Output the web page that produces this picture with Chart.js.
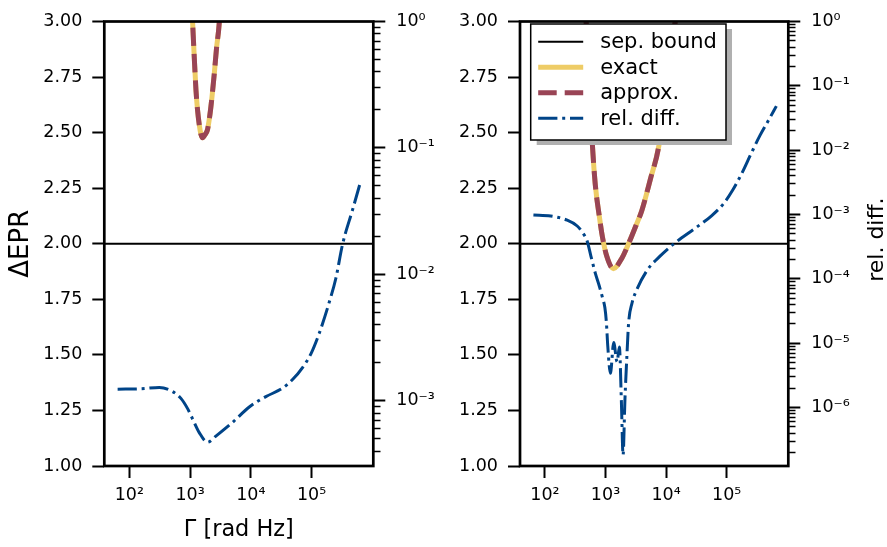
<!DOCTYPE html>
<html>
<head>
<meta charset="utf-8">
<script src="https://cdn.jsdelivr.net/npm/chart.js@4/dist/chart.umd.min.js"></script>
<style>
  html, body { margin: 0; padding: 0; background: #fff; }
  #wrap { position: relative; width: 887px; height: 547px; overflow: hidden; }
  canvas { position: absolute; top: 0; }
  #cA { left: 0; }
  #cB { left: 443px; }
</style>
</head>
<body>
<div id="wrap">
  <canvas id="cA" width="443" height="547"></canvas>
  <canvas id="cB" width="444" height="547"></canvas>
</div>
<script>
// ---- data -------------------------------------------------------------
// x range of both panels (Γ in rad Hz)
const gammaRange = [38.8, 1.04e6];
const gammaTicks = [1e2, 1e3, 1e4, 1e5];
const deltaTicks = [1.00, 1.25, 1.50, 1.75, 2.00, 2.25, 2.50, 2.75, 3.00];
const relTicksL = [1e-3, 1e-2, 1e-1, 1e0];
const relTicksR = [1e-6, 1e-5, 1e-4, 1e-3, 1e-2, 1e-1, 1e0];
const relRangeL = [3.05e-4, 1];
const relRangeR = [1.23e-7, 1];

// separability bound
const sepGamma = [38.8, 1.04e6];
const sepValue = [2, 2];

// left panel: ΔEPR (exact and approximation coincide)
const gammaDeltaL = [955, 1102, 1175, 1253, 1330, 1419, 1514, 1607, 1778, 1941, 2070, 2208, 2506, 2735, 3020, 3548];
const exactDeltaL = [3.45, 3.00, 2.838, 2.691, 2.602, 2.536, 2.492, 2.477, 2.492, 2.514, 2.558, 2.617, 2.764, 2.882, 2.99, 3.35];
const approxDeltaL = [3.45, 3.00, 2.838, 2.691, 2.602, 2.536, 2.492, 2.477, 2.492, 2.514, 2.558, 2.617, 2.764, 2.882, 2.99, 3.35];

// left panel: relative difference
const gammaRelL = [64.3, 158.5, 311.9, 516.4, 707.9, 912, 1102, 1419, 1945, 2667, 5012, 9441, 17740, 33340, 48750, 71120, 97720, 134000, 195400, 251200, 324300, 473200, 648600];
const relDiffL = [1.236e-3, 1.245e-3, 1.276e-3, 1.183e-3, 1.045e-3, 8.67e-4, 7.18e-4, 5.60e-4, 4.70e-4, 5.26e-4, 6.75e-4, 8.93e-4, 1.079e-3, 1.259e-3, 1.472e-3, 1.832e-3, 2.350e-3, 3.420e-3, 6.00e-3, 9.27e-3, 1.730e-2, 3.236e-2, 5.50e-2];

// right panel: ΔEPR
const gammaDeltaR = [417, 479, 537, 603, 676, 794, 891, 1047, 1349, 1862, 2399, 3162, 3981, 5495, 7586, 9772, 13490, 14125, 16596];
const exactDeltaR = [3.40, 3.00, 2.72, 2.46, 2.27, 2.12, 2.03, 1.945, 1.888, 1.935, 2.00, 2.08, 2.15, 2.29, 2.44, 2.67, 2.96, 3.00, 3.30];
const approxDeltaR = [3.40, 3.00, 2.72, 2.46, 2.27, 2.12, 2.03, 1.945, 1.888, 1.935, 2.00, 2.08, 2.15, 2.29, 2.44, 2.67, 2.96, 3.00, 3.30];

// right panel: relative difference
const gammaRelR = [64.6, 124.2, 233.3, 341.2, 416.9, 498.9, 575.4, 682.3, 794.3, 881.0, 977.2, 1035, 1089, 1205, 1365, 1552, 1694, 1828, 1950, 2089, 2270, 2410, 2742, 3112, 4842, 8017, 13270, 31620, 56230, 89130, 125900, 177800, 251200, 354800, 501200, 660700];
const relDiffR = [9.82e-4, 9.46e-4, 8.15e-4, 6.62e-4, 5.25e-4, 3.85e-4, 2.24e-4, 1.202e-4, 7.59e-5, 5.31e-5, 3.55e-5, 2.09e-5, 9.12e-6, 3.39e-6, 1.023e-5, 5.13e-6, 8.71e-6, 1.259e-6, 1.82e-7, 1.259e-6, 7.24e-6, 2.09e-5, 4.20e-5, 6.03e-5, 1.349e-4, 2.27e-4, 3.47e-4, 6.31e-4, 9.55e-4, 1.479e-3, 2.399e-3, 4.365e-3, 8.71e-3, 1.698e-2, 3.02e-2, 4.84e-2];

// ---- styling ----------------------------------------------------------
const FONT = "'DejaVu Sans', sans-serif";
const COLORS = { sep: '#000000', exact: '#EECC66', approx: '#994455', rel: '#004488' };
const STYLES = {
  sep:    { borderColor: COLORS.sep, borderWidth: 2, borderDash: [] },
  exact:  { borderColor: COLORS.exact, borderWidth: 5, borderDash: [] },
  approx: { borderColor: COLORS.approx, borderWidth: 5, borderDash: [18.5, 8] },
  rel:    { borderColor: COLORS.rel, borderWidth: 3, borderDash: [19.2, 4.8, 3, 4.8] }
};

const SUP = { '-': '\u207B', '0': '\u2070', '1': '\u00B9', '2': '\u00B2', '3': '\u00B3', '4': '\u2074', '5': '\u2075', '6': '\u2076', '7': '\u2077', '8': '\u2078', '9': '\u2079' };
const sup = s => String(s).replace(/[-0-9]/g, c => SUP[c]);
const isDecade = v => Math.abs(Math.log10(v) - Math.round(Math.log10(v))) < 1e-6;
const decadeLabel = v => '10' + sup(Math.round(Math.log10(v)));

// decades plus the 2..9 minor positions inside [lo, hi]
function logTickValues(majors, lo, hi) {
  const out = [];
  const e0 = Math.floor(Math.log10(lo)), e1 = Math.ceil(Math.log10(hi));
  for (let e = e0; e <= e1; e++) {
    for (let k = 1; k <= 9; k++) {
      const v = k * Math.pow(10, e);
      if (v >= lo * 0.9999 && v <= hi * 1.0001) {
        if (k === 1 && !majors.some(m => Math.abs(m - v) / v < 1e-6)) continue;
        out.push(v);
      }
    }
  }
  return out;
}

function series(label, xs, ys, axis, style, order) {
  return Object.assign({
    label,
    data: xs.map((x, i) => ({ x, y: ys[i] })),
    yAxisID: axis,
    pointRadius: 0,
    pointHoverRadius: 0,
    fill: false,
    clip: 0,
    order,
    borderCapStyle: 'butt',
    cubicInterpolationMode: 'monotone'
  }, style);
}

// ---- plugins ------------------------------------------------------------
const framePlugin = {
  id: 'frame',
  afterDatasetsDraw(chart) {
    const { ctx, chartArea: a } = chart;
    ctx.save();
    ctx.strokeStyle = '#000';
    ctx.lineWidth = 2.7;
    ctx.strokeRect(a.left, a.top, a.right - a.left, a.bottom - a.top);
    ctx.restore();
  }
};

const legendPlugin = {
  id: 'boxLegend',
  afterDraw(chart, args, opts) {
    if (!opts || !opts.show) return;
    const { ctx } = chart;
    const x0 = opts.x, y0 = opts.y, w = opts.w, h = opts.h;
    ctx.save();
    ctx.fillStyle = '#b0b0b0';
    ctx.fillRect(x0 + 6, y0 + 5, w, h);
    ctx.fillStyle = '#ffffff';
    ctx.fillRect(x0, y0, w, h);
    ctx.strokeStyle = '#000';
    ctx.lineWidth = 1.5;
    ctx.strokeRect(x0, y0, w, h);
    const entries = [
      ['sep. bound', STYLES.sep],
      ['exact', STYLES.exact],
      ['approx.', STYLES.approx],
      ['rel. diff.', STYLES.rel]
    ];
    ctx.font = '21px ' + FONT;
    ctx.textBaseline = 'middle';
    ctx.textAlign = 'left';
    entries.forEach(([text, st], i) => {
      const y = y0 + 17.7 + i * 25.5;
      ctx.beginPath();
      ctx.strokeStyle = st.borderColor;
      ctx.lineWidth = st.borderWidth;
      ctx.lineCap = 'butt';
      ctx.setLineDash(st.borderDash);
      ctx.moveTo(x0 + 7.5, y);
      ctx.lineTo(x0 + 52.5, y);
      ctx.stroke();
      ctx.setLineDash([]);
      ctx.fillStyle = '#000';
      ctx.fillText(text, x0 + 69.5, y + 1);
    });
    ctx.restore();
  }
};

const sideTitlePlugin = {
  id: 'sideTitle',
  afterDraw(chart, args, opts) {
    if (!opts || !opts.text) return;
    const { ctx } = chart;
    ctx.save();
    ctx.translate(opts.x, opts.y);
    ctx.rotate(-Math.PI / 2);
    ctx.font = opts.size + 'px ' + FONT;
    ctx.fillStyle = '#000';
    ctx.textAlign = 'center';
    ctx.textBaseline = 'middle';
    ctx.fillText(opts.text, 0, 0);
    ctx.restore();
  }
};

// ---- chart builder -------------------------------------------------------
function buildChart(canvasId, cfg) {
  const tickFont = { family: FONT, size: 17.5 };
  const relValues = logTickValues(cfg.relTicks, cfg.relRange[0], cfg.relRange[1]);
  return new Chart(document.getElementById(canvasId), {
    type: 'line',
    data: {
      datasets: [
        series('rel. diff.', cfg.gammaRel, cfg.relDiff, 'y2', STYLES.rel, 1),
        series('approx.', cfg.gammaDelta, cfg.approxDelta, 'y', STYLES.approx, 2),
        series('exact', cfg.gammaDelta, cfg.exactDelta, 'y', STYLES.exact, 3),
        series('sep. bound', sepGamma, sepValue, 'y', STYLES.sep, 4)
      ]
    },
    options: {
      responsive: false,
      animation: false,
      devicePixelRatio: 1,
      events: [],
      layout: { padding: { top: 13.3, left: 0, right: 0, bottom: 0 } },
      plugins: {
        legend: { display: false },
        tooltip: { enabled: false },
        boxLegend: cfg.legend || { show: false },
        sideTitle: cfg.sideTitle || {}
      },
      scales: {
        x: {
          type: 'logarithmic',
          position: 'bottom',
          min: gammaRange[0],
          max: gammaRange[1],
          bounds: 'data',
          afterBuildTicks: s => { s.ticks = gammaTicks.map(v => ({ value: v, major: true })); },
          afterFit: s => { s.height = 81; },
          border: { display: false },
          grid: { drawOnChartArea: false, drawTicks: true, tickLength: 12, tickWidth: 2, tickColor: '#000' },
          ticks: { autoSkip: false, maxRotation: 0, minRotation: 0, padding: 7, color: '#000', font: tickFont,
                   callback: v => decadeLabel(v) },
          title: cfg.xTitle
            ? { display: true, text: cfg.xTitle, color: '#000', font: { family: FONT, size: 22.4 }, padding: { top: 0, bottom: 3 } }
            : { display: false }
        },
        y: {
          type: 'linear',
          position: 'left',
          min: 1,
          max: 3,
          afterBuildTicks: s => { s.ticks = deltaTicks.map(v => ({ value: v })); },
          afterFit: s => { s.width = cfg.leftWidth; },
          border: { display: false },
          grid: { drawOnChartArea: false, drawTicks: true, tickLength: 12, tickWidth: 2, tickColor: '#000' },
          ticks: { autoSkip: false, padding: 10, color: '#000', font: tickFont, callback: v => Number(v).toFixed(2) },
          title: cfg.yTitle
            ? { display: true, text: cfg.yTitle, color: '#000', font: { family: FONT, size: 26 }, padding: { top: 5.2, bottom: 0 } }
            : { display: false }
        },
        y2: {
          type: 'logarithmic',
          position: 'right',
          min: cfg.relRange[0],
          max: cfg.relRange[1],
          bounds: 'data',
          afterBuildTicks: s => { s.ticks = relValues.map(v => ({ value: v, major: isDecade(v) })); },
          afterFit: s => { s.width = cfg.rightWidth; },
          border: { display: false },
          grid: {
            drawOnChartArea: false, drawTicks: true, tickLength: 12, tickColor: '#000',
            tickWidth: c => (c.tick && isDecade(c.tick.value)) ? 2 : 1.5,
            tickBorderDash: c => (c.tick && isDecade(c.tick.value)) ? [] : [7.5, 100]
          },
          ticks: { autoSkip: false, padding: 11, color: '#000', font: tickFont,
                   callback: v => isDecade(v) ? decadeLabel(v) : '' }
        }
      }
    },
    plugins: [framePlugin, legendPlugin, sideTitlePlugin]
  });
}

buildChart('cA', {
  gammaDelta: gammaDeltaL, exactDelta: exactDeltaL, approxDelta: approxDeltaL,
  gammaRel: gammaRelL, relDiff: relDiffL,
  relTicks: relTicksL, relRange: relRangeL,
  leftWidth: 104.3, rightWidth: 443 - 373.3,
  xTitle: '\u0393 [rad Hz]', yTitle: '\u0394EPR'
});

buildChart('cB', {
  gammaDelta: gammaDeltaR, exactDelta: exactDeltaR, approxDelta: approxDeltaR,
  gammaRel: gammaRelR, relDiff: relDiffR,
  relTicks: relTicksR, relRange: relRangeR,
  leftWidth: 77, rightWidth: 444 - 345.3,
  legend: { show: true, x: 87.7, y: 24, w: 195.3, h: 116 },
  sideTitle: { text: 'rel. diff.', x: 434.5, y: 239.6, size: 22 }
});
</script>
</body>
</html>
